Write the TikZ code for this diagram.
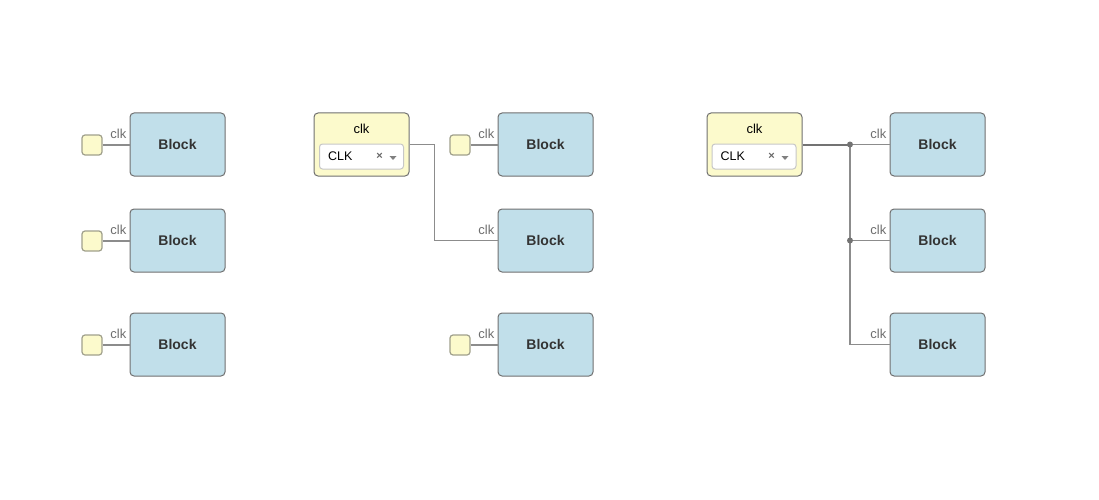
\documentclass[tikz,border=0pt]{standalone}
\usepackage{fontspec}
\setmainfont{Liberation Sans}
\usetikzlibrary{positioning,calc}

\definecolor{blockfill}{RGB}{193,223,234}
\definecolor{srcfill}{RGB}{252,250,204}
\definecolor{edgegray}{RGB}{112,112,112}
\definecolor{portedge}{RGB}{160,160,140}
\definecolor{wiregray}{RGB}{140,140,140}
\definecolor{lblgray}{RGB}{110,110,110}

\tikzset{
  block/.style={draw=edgegray, line width=1pt, fill=blockfill, rounded corners=4pt,
    minimum width=95pt, minimum height=63pt, inner sep=0pt,
    font=\fontsize{14}{16}\selectfont\bfseries, text=black!80},
  port/.style={draw=portedge, line width=1.2pt, fill=srcfill, rounded corners=3pt,
    minimum size=20pt, inner sep=0pt},
  source/.style={draw=edgegray, line width=1pt, fill=srcfill, rounded corners=4pt,
    minimum width=95pt, minimum height=63pt, inner sep=0pt},
  dropbox/.style={draw=black!22, line width=1pt, fill=white, rounded corners=3pt,
    minimum width=84pt, minimum height=25pt, inner sep=0pt},
  pinlbl/.style={font=\fontsize{13}{15}\selectfont, text=lblgray, inner sep=0pt},
  wire/.style={draw=wiregray, line width=1.6pt},
}

\begin{document}
\begin{tikzpicture}[x=1pt,y=-1pt]
\useasboundingbox (0,0) rectangle (1099,500);

% blocks
\foreach \c/\x in {1/177.5,2/545.5,3/937.5}
  \foreach \r/\y in {1/144.5,2/240.5,3/344.5}
    \node[block] (b\c\r) at (\x,\y) {Block};

% left column: one port each
\foreach \r/\y in {1/145,2/241,3/345}
{
  \node[port] (p1\r) at (92,\y) {};
  \draw[wire] (p1\r.east) -- (b1\r.west |- p1\r.east);
}

% middle column
\node[port] (p21) at (460,145) {};
\node[port] (p23) at (460,345) {};
\draw[wire] (p21.east) -- (b21.west |- p21.east);
\draw[wire] (p23.east) -- (b23.west |- p23.east);

\node[source] (src1) at (361.5,144.5) {};
\node[font=\fontsize{13}{15}\selectfont] (t1) at (361.5,129) {clk};
\node[dropbox] (d1) at (361.5,156.5) {};
\node[font=\fontsize{12.5}{15}\selectfont, anchor=west, inner sep=0pt] (v1) at ([xshift=9pt]d1.west) {CLK};
\node[font=\fontsize{11}{12}\selectfont\bfseries, text=black!60, inner sep=0pt] (x1) at (379.5,156) {×};
\fill[black!50] (389.5,156) -- (396.5,156) -- (393,160) -- cycle;
\draw[wire] (src1.east) -- ++(25,0) |- (b22.west);

% right column
\node[source] (src2) at (754.5,144.5) {};
\node[font=\fontsize{13}{15}\selectfont] (t2) at (754.5,129) {clk};
\node[dropbox] (d2) at (754,156.5) {};
\node[font=\fontsize{12.5}{15}\selectfont, anchor=west, inner sep=0pt] (v2) at ([xshift=9pt]d2.west) {CLK};
\node[font=\fontsize{11}{12}\selectfont\bfseries, text=black!60, inner sep=0pt] (x2) at (771.5,156) {×};
\fill[black!50] (781.5,156) -- (788.5,156) -- (785,160) -- cycle;

\coordinate (j1) at (850,144.5);
\coordinate (j2) at (850,240.5);
\draw[wire, draw=black!55, line width=2pt] (src2.east) -- (j1);
\draw[wire] (j1) -- (b31.west);
\draw[wire] (j2) -- (b32.west);
\draw[wire] (j1) |- (b33.west);
\fill[black!55] (j1) circle [radius=3pt] (j2) circle [radius=3pt];

% pin labels
\foreach \b in {b11,b12,b13,b21,b22,b23,b31,b32,b33}
  \node[pinlbl, anchor=base east] at ([xshift=-3pt,yshift=6pt]\b.west) {clk};
\end{tikzpicture}
\end{document}
